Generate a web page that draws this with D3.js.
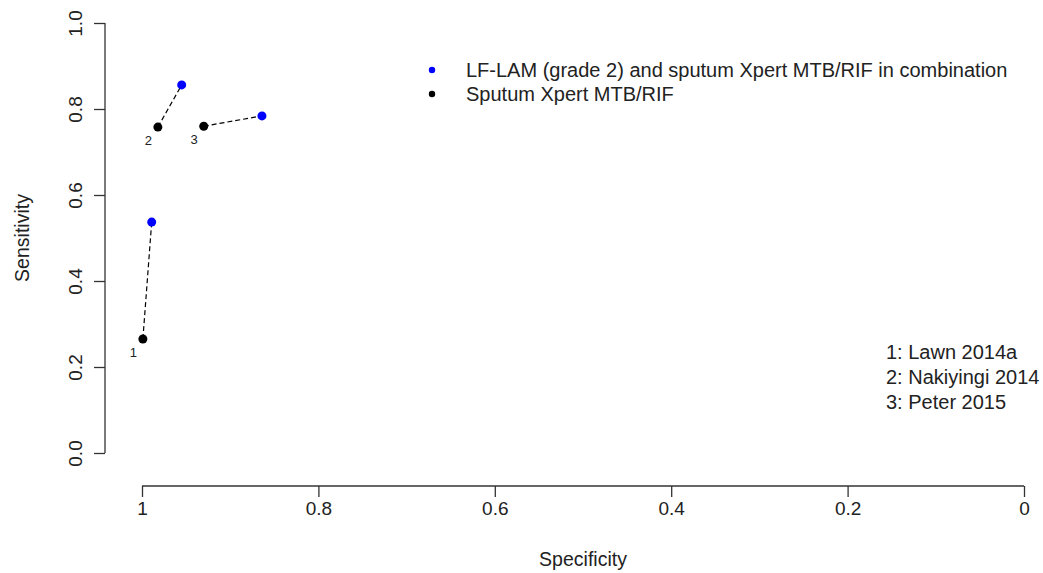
<!DOCTYPE html>
<html>
<head>
<meta charset="utf-8">
<script src="https://cdn.jsdelivr.net/npm/d3@7"></script>
<style>
  body { margin: 0; background: #fff; }
  text { font-family: "Liberation Sans", Arial, sans-serif; fill: #222; }
</style>
</head>
<body>
<svg width="1043" height="573"></svg>
<script>
// study data: specificity / sensitivity for each test
var studies = ["1", "2", "3"],
    studyNames = ["1: Lawn 2014a", "2: Nakiyingi 2014", "3: Peter 2015"],
    specCombo = [0.989, 0.955, 0.864],
    sensCombo = [0.537, 0.856, 0.784],
    specXpert = [0.999, 0.982, 0.930],
    sensXpert = [0.265, 0.758, 0.760],
    seriesNames = ["LF-LAM (grade 2) and sputum Xpert MTB/RIF in combination", "Sputum Xpert MTB/RIF"],
    seriesColors = ["#0000ff", "#000000"],
    xTicks = [1, 0.8, 0.6, 0.4, 0.2, 0],
    yTicks = [0, 0.2, 0.4, 0.6, 0.8, 1.0];

var svg = d3.select("svg");

var x = d3.scaleLinear().domain([1, 0]).range([142, 1024]),
    y = d3.scaleLinear().domain([0, 1]).range([453, 23]);

var xAxis = d3.axisBottom(x)
    .tickValues(xTicks)
    .tickSize(11)
    .tickPadding(5)
    .tickFormat(function(d) { return d3.format("")(d); });

var yAxis = d3.axisLeft(y)
    .tickValues(yTicks)
    .tickSize(11)
    .tickFormat(d3.format(".1f"));

var gx = svg.append("g")
    .attr("transform", "translate(0,486)")
    .call(xAxis);

var gy = svg.append("g")
    .attr("transform", "translate(105,0)")
    .call(yAxis);

[gx, gy].forEach(function(g) {
    g.select(".domain").attr("stroke", "#333").attr("stroke-width", 1.3)
        .attr("d", g === gx ? "M" + x(1) + ",0H" + x(0) : "M0," + y(0) + "V" + y(1));
    g.selectAll(".tick line").attr("stroke", "#333").attr("stroke-width", 1.3);
    g.selectAll(".tick text").style("font-size", "19px").attr("fill", "#222");
});

// rotate y tick labels like base R
gy.selectAll(".tick text")
    .attr("x", null).attr("dy", null)
    .attr("text-anchor", "middle")
    .attr("transform", "translate(-30,0) rotate(-90)")
    .attr("dy", "0.35em");

svg.append("text")
    .attr("x", 583).attr("y", 566)
    .attr("text-anchor", "middle")
    .style("font-size", "19.5px")
    .text("Specificity");

svg.append("text")
    .attr("transform", "translate(22,238) rotate(-90)")
    .attr("text-anchor", "middle")
    .attr("dy", "0.35em")
    .style("font-size", "19.5px")
    .text("Sensitivity");

// dashed links between paired estimates
var pairs = studies.map(function(s, i) {
    return { id: s, x1: specXpert[i], y1: sensXpert[i], x2: specCombo[i], y2: sensCombo[i] };
});

svg.append("g").selectAll("line")
    .data(pairs).enter().append("line")
    .attr("x1", function(d) { return x(d.x1); })
    .attr("y1", function(d) { return y(d.y1); })
    .attr("x2", function(d) { return x(d.x2); })
    .attr("y2", function(d) { return y(d.y2); })
    .attr("stroke", "#000")
    .attr("stroke-width", 1.2)
    .attr("stroke-dasharray", "5,3");

svg.append("g").selectAll("circle")
    .data(pairs).enter().append("circle")
    .attr("cx", function(d) { return x(d.x2); })
    .attr("cy", function(d) { return y(d.y2); })
    .attr("r", 4.5)
    .attr("fill", seriesColors[0]);

svg.append("g").selectAll("circle")
    .data(pairs).enter().append("circle")
    .attr("cx", function(d) { return x(d.x1); })
    .attr("cy", function(d) { return y(d.y1); })
    .attr("r", 4.5)
    .attr("fill", seriesColors[1]);

svg.append("g").selectAll("text")
    .data(pairs).enter().append("text")
    .attr("x", function(d) { return x(d.x1) - 9.5; })
    .attr("y", function(d) { return y(d.y1) + 18; })
    .attr("text-anchor", "middle")
    .style("font-size", "13px")
    .text(function(d) { return d.id; });

// series legend
var legend = svg.append("g");
seriesNames.forEach(function(name, i) {
    legend.append("circle")
        .attr("cx", 432).attr("cy", 70 + i * 24)
        .attr("r", 3.2)
        .attr("fill", seriesColors[i]);
    legend.append("text")
        .attr("x", 466).attr("y", 70 + i * 24)
        .attr("dy", "0.35em")
        .style("font-size", "20px")
        .text(name);
});

// study key
studyNames.forEach(function(name, i) {
    svg.append("text")
        .attr("x", 886).attr("y", 352 + i * 25)
        .attr("dy", "0.35em")
        .style("font-size", "20px")
        .text(name);
});
</script>
</body>
</html>
